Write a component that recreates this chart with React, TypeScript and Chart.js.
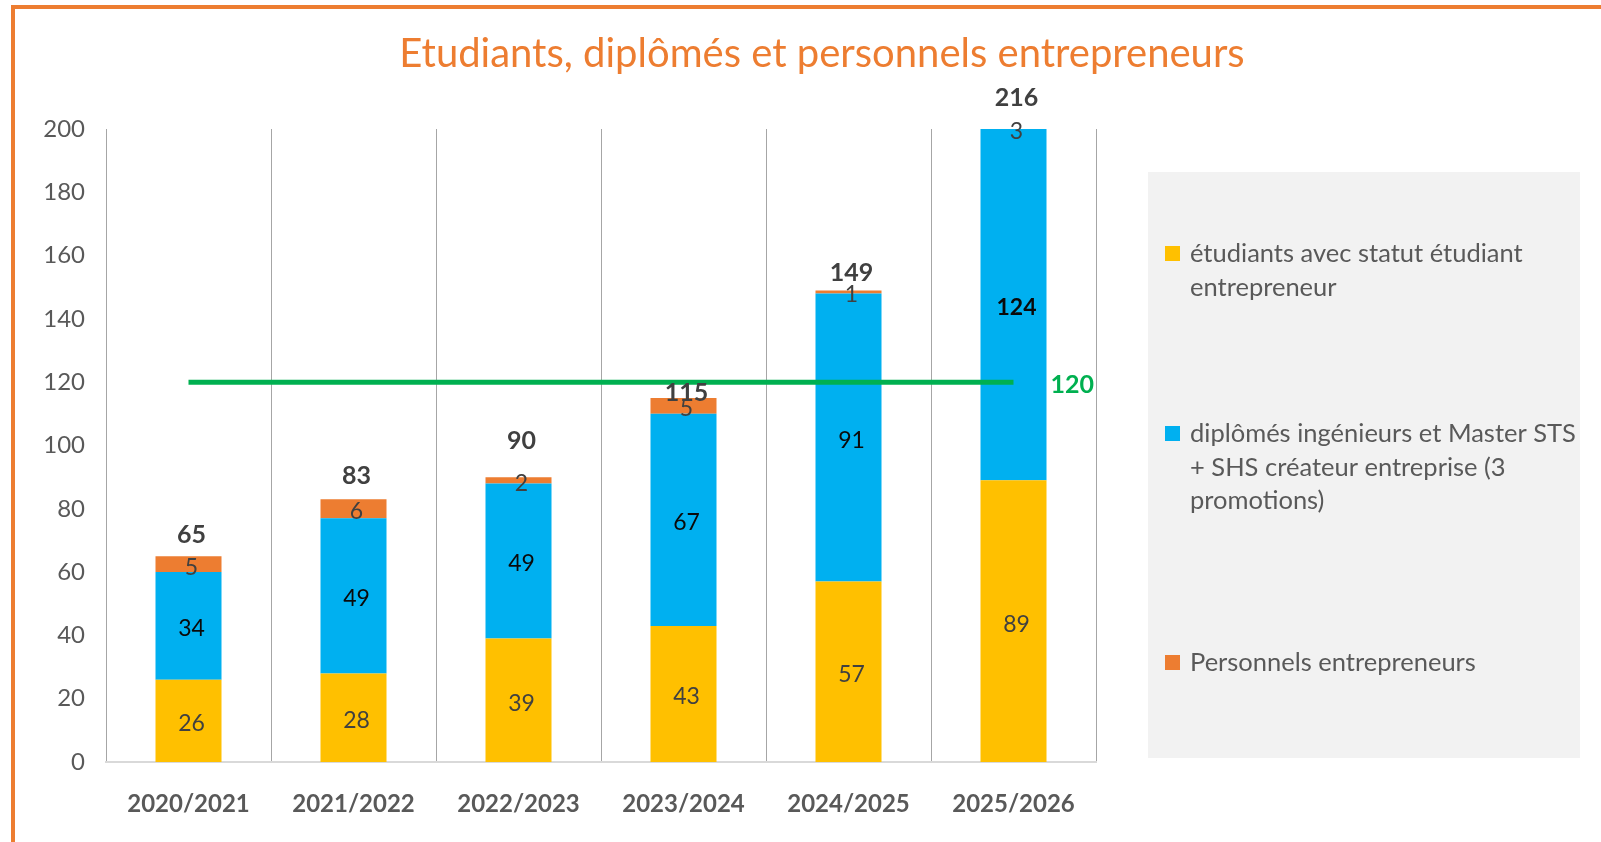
import React, { useEffect, useRef } from "react";
import { Chart, registerables } from "chart.js";

Chart.register(...registerables);

const TITLE = "Etudiants, diplômés et personnels entrepreneurs";
const CATEGORIES = ["2020/2021", "2021/2022", "2022/2023", "2023/2024", "2024/2025", "2025/2026"];
const SERIES_NAMES = [
  "étudiants avec statut étudiant entrepreneur",
  "diplômés ingénieurs et Master STS + SHS créateur entreprise (3 promotions)",
  "Personnels entrepreneurs",
];
const ETUDIANTS = [26, 28, 39, 43, 57, 89];
const DIPLOMES = [34, 49, 49, 67, 91, 124];
const PERSONNELS = [5, 6, 2, 5, 1, 3];
const TARGET = [120, 120, 120, 120, 120, 120];
const Y_TICKS_MAX = 200;
const Y_STEP = 20;

// style-only arrays
const TOTAL_OFFSETS = [21, 23, 36, 5, 17, 31];
const BLUE_BOLD = [false, false, false, false, false, true];

const COLORS = ["#FFC000", "#00B0F0", "#ED7D31"];
const LABEL_COLORS = ["#404040", "#0a0a0a", "#404040"];
const GREEN = "#00B050";
const FONT = "Lato";

const overlayPlugin = {
  id: "overlay",
  beforeDraw(chart: any) {
    const ctx = chart.ctx;
    ctx.save();
    ctx.fillStyle = "#ffffff";
    ctx.fillRect(0, 0, chart.width, chart.height);
    // orange frame
    ctx.strokeStyle = "#ED7D31";
    ctx.lineWidth = 4;
    ctx.strokeRect(13, 7, chart.width + 40, chart.height + 40);
    // title
    ctx.fillStyle = "#ED7D31";
    ctx.font = `40px ${FONT}`;
    ctx.textAlign = "center";
    ctx.textBaseline = "middle";
    ctx.fillText(TITLE, 822, 54);
    // legend box
    ctx.fillStyle = "#F2F2F2";
    ctx.fillRect(1148, 172, 432, 586);
    const itemY = [254, 434, 663];
    ctx.font = `25.5px ${FONT}`;
    ctx.textAlign = "left";
    SERIES_NAMES.forEach((name, i) => {
      ctx.fillStyle = COLORS[i];
      ctx.fillRect(1165, itemY[i] - 8, 15, 15);
      const words = name.split(" ");
      const lines: string[] = [];
      let cur = "";
      words.forEach((w) => {
        const t = cur ? cur + " " + w : w;
        if (ctx.measureText(t).width > 392 && cur) {
          lines.push(cur);
          cur = w;
        } else cur = t;
      });
      if (cur) lines.push(cur);
      ctx.fillStyle = "#595959";
      lines.forEach((l, j) => ctx.fillText(l, 1190, itemY[i] + j * 33.5));
    });
    ctx.restore();
  },
  afterDatasetsDraw(chart: any) {
    const ctx = chart.ctx;
    const area = chart.chartArea;
    const clamp = (v: number) => Math.max(area.top, Math.min(area.bottom, v));
    ctx.save();
    ctx.textAlign = "center";
    ctx.textBaseline = "middle";
    for (let d = 0; d < 3; d++) {
      const meta = chart.getDatasetMeta(d);
      meta.data.forEach((el: any, i: number) => {
        const top = clamp(el.y);
        const base = clamp(el.base);
        const y = (top + base) / 2;
        const bold = d === 1 && BLUE_BOLD[i];
        ctx.font = `${bold ? "bold " : ""}23px ${FONT}`;
        ctx.fillStyle = LABEL_COLORS[d];
        ctx.fillText(String(chart.data.datasets[d].data[i]), el.x + 3, y + 3);
      });
    }
    // totals
    const topMeta = chart.getDatasetMeta(2);
    ctx.font = `bold 25px ${FONT}`;
    ctx.fillStyle = "#404040";
    topMeta.data.forEach((el: any, i: number) => {
      const total = ETUDIANTS[i] + DIPLOMES[i] + PERSONNELS[i];
      const top = clamp(el.y);
      ctx.fillText(String(total), el.x + 3, top - TOTAL_OFFSETS[i]);
    });
    // target label
    const lineMeta = chart.getDatasetMeta(3);
    const last = lineMeta.data[lineMeta.data.length - 1];
    ctx.font = `bold 25px ${FONT}`;
    ctx.fillStyle = GREEN;
    ctx.textAlign = "left";
    ctx.fillText(String(TARGET[TARGET.length - 1]), last.x + 37, last.y + 3);
    ctx.restore();
  },
};

export default function App() {
  const ref = useRef<HTMLCanvasElement>(null);
  useEffect(() => {
    if (!ref.current) return;
    const chart = new Chart(ref.current, {
      type: "bar",
      data: {
        labels: CATEGORIES,
        datasets: [
          { type: "bar", label: SERIES_NAMES[0], data: ETUDIANTS, backgroundColor: COLORS[0], order: 1, clip: 0 } as any,
          { type: "bar", label: SERIES_NAMES[1], data: DIPLOMES, backgroundColor: COLORS[1], order: 1, clip: 0 } as any,
          { type: "bar", label: SERIES_NAMES[2], data: PERSONNELS, backgroundColor: COLORS[2], order: 1, clip: 0 } as any,
          {
            type: "line",
            label: "Objectif",
            data: TARGET,
            borderColor: GREEN,
            borderWidth: 5,
            pointRadius: 0,
            stack: "target",
            order: 0,
            borderCapStyle: "butt",
          } as any,
        ],
      },
      options: {
        responsive: false,
        animation: false,
        devicePixelRatio: 1,
        layout: { padding: { top: 129, right: 505, left: 0, bottom: 0 } },
        datasets: { bar: { categoryPercentage: 1, barPercentage: 0.4 } },
        plugins: { legend: { display: false }, tooltip: { enabled: false }, title: { display: false } },
        scales: {
          x: {
            stacked: true,
            offset: true,
            grid: { display: true, offset: true, color: "#A6A6A6", lineWidth: 1, drawTicks: false },
            border: { display: true, color: "#D9D9D9", width: 2 },
            ticks: { color: "#595959", font: { family: FONT, size: 24, weight: "bold" }, padding: 28 },
            afterFit: (s: any) => {
              s.height = 80;
            },
          },
          y: {
            stacked: true,
            min: 0,
            max: Y_TICKS_MAX,
            ticks: { stepSize: Y_STEP, color: "#595959", font: { family: FONT, size: 24 }, padding: 21 },
            grid: { display: false, drawTicks: false },
            border: { display: false },
            afterFit: (s: any) => {
              s.width = 106;
            },
          },
        },
      },
      plugins: [overlayPlugin],
    });
    return () => chart.destroy();
  }, []);
  return (
    <div style={{ position: "fixed", left: 0, top: 0, width: 1601, height: 842 }}>
      <canvas ref={ref} width={1601} height={842} />
    </div>
  );
}
